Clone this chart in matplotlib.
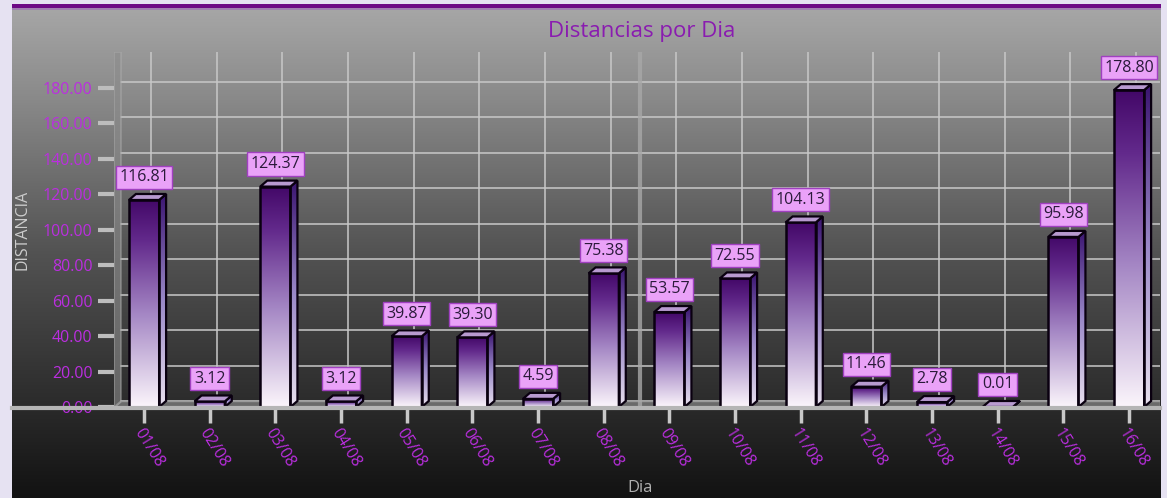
import numpy as np
import matplotlib
matplotlib.use("Agg")
import matplotlib.pyplot as plt
from matplotlib.colors import LinearSegmentedColormap
from matplotlib.patches import Polygon, Rectangle
from matplotlib.lines import Line2D

plt.rcParams['font.family'] = ['Open Sans', 'DejaVu Sans']

# Dados
dias = ['01/08', '02/08', '03/08', '04/08', '05/08', '06/08', '07/08', '08/08',
        '09/08', '10/08', '11/08', '12/08', '13/08', '14/08', '15/08', '16/08']
distancias = [116.81, 3.12, 124.37, 3.12, 39.87, 39.30, 4.59, 75.38,
              53.57, 72.55, 104.13, 11.46, 2.78, 0.01, 95.98, 178.80]
y_ticks = [0, 20, 40, 60, 80, 100, 120, 140, 160, 180]

W, H = 1167, 498
roxo_txt = '#bb2ee0'

fig = plt.figure(figsize=(W / 100, H / 100), dpi=100)
fig.patch.set_facecolor('#e6e2f2')

# Painel de fundo (degradê cinza -> preto)
bg = fig.add_axes([12 / W, 0, (1161 - 12) / W, (H - 4) / H])
bg.set_axis_off()
cinza = LinearSegmentedColormap.from_list('cinza', [
    (0.0, '#121212'), (0.18, '#2a2a2a'), (0.5, '#535353'),
    (0.8, '#888888'), (1.0, '#a8a8a8')])
bg.imshow(np.linspace(0, 1, 256).reshape(-1, 1), aspect='auto', cmap=cinza,
          origin='lower', extent=[0, 1, 0, 1])
bg.set_xlim(0, 1)
bg.set_ylim(0, 1)

# Linha roxa no topo
fig.add_artist(Rectangle((12 / W, (H - 8) / H), (1161 - 12) / W, 4 / H,
                         transform=fig.transFigure, color='#6e0a86', lw=0))
fig.add_artist(Rectangle((12 / W, (H - 10) / H), (1161 - 12) / W, 2 / H,
                         transform=fig.transFigure, color='#a080b0', lw=0))

# Eixo principal
x_px0, x_px1 = 114, 1160
y_px0, y_px1 = 407, 52
px_x = (1129 - 144) / 15
px_y = (407 - 88) / 180
xmin = (x_px0 - 144) / px_x
xmax = (x_px1 - 144) / px_x
ymax = (y_px0 - y_px1) / px_y

ax = fig.add_axes([x_px0 / W, (H - y_px0) / H, (x_px1 - x_px0) / W, (y_px0 - y_px1) / H])
ax.set_facecolor('none')
for s in ax.spines.values():
    s.set_visible(False)

dx = 7 / px_x
dy = 6 / px_y
w = 0.46
x = np.arange(len(dias))

# Parede de fundo: grade
for v in y_ticks:
    ax.plot([xmin + dx, xmax], [v + dy, v + dy], color='#c8c8c8', lw=1.3, alpha=0.85, zorder=1)
for i in x:
    ax.plot([i + dx, i + dx], [dy, ymax], color='#c8c8c8', lw=1.3, alpha=0.85, zorder=1)

# Parede esquerda e piso
ax.add_patch(Polygon([(xmin, 0), (xmin + dx, dy), (xmin + dx, ymax), (xmin, ymax)],
                     closed=True, facecolor='#8c8c8c', edgecolor='#b0b0b0', lw=1, alpha=0.6, zorder=1))
ax.add_patch(Polygon([(xmin, 0), (xmax, 0), (xmax, dy), (xmin + dx, dy)],
                     closed=True, facecolor='#6a6a6a', edgecolor='#9a9a9a', lw=1, zorder=1.5))
ax.plot([7.5 + dx / 2] * 2, [0, ymax], color='#a8a8a8', lw=3, alpha=0.8, zorder=1.6)

# Linha do zero que atravessa o painel
fig.add_artist(Line2D([12 / W, 1160 / W], [(H - 408) / H] * 2, transform=fig.transFigure,
                      color='#b5b5b5', lw=3, zorder=0.5))

frente = LinearSegmentedColormap.from_list('frente', [
    (0.0, '#fbf5fb'), (0.45, '#a486c4'), (0.8, '#632a8c'), (1.0, '#430868')])
lado = LinearSegmentedColormap.from_list('lado', [
    (0.0, '#e8e0ee'), (0.5, '#9a88c8'), (1.0, '#3a1470')])
grad = np.linspace(0, 1, 256).reshape(-1, 1)

for i, v in zip(x, distancias):
    x0, x1 = i - w / 2, i + w / 2
    # face lateral
    p_lado = Polygon([(x1, 0), (x1 + dx, dy), (x1 + dx, v + dy), (x1, v)], closed=True,
                     facecolor='none', edgecolor='#0a0010', lw=1.6, zorder=4)
    ax.add_patch(p_lado)
    im = ax.imshow(grad, aspect='auto', cmap=lado, origin='lower',
                   extent=[x1, x1 + dx, 0, v + dy], zorder=3)
    im.set_clip_path(p_lado)
    # face frontal
    p_frente = Rectangle((x0, 0), w, v, facecolor='none', edgecolor='#0a0010', lw=1.8, zorder=4)
    ax.add_patch(p_frente)
    im = ax.imshow(grad, aspect='auto', cmap=frente, origin='lower',
                   extent=[x0, x1, 0, max(v, 0.01)], zorder=3)
    im.set_clip_path(p_frente)
    # topo
    ax.add_patch(Polygon([(x0, v), (x1, v), (x1 + dx, v + dy), (x0 + dx, v + dy)], closed=True,
                         facecolor='#b89ad0', edgecolor='#0a0010', lw=1.6, zorder=4.5))
    # rótulo
    ax.annotate(f'{v:.2f}', (i, v), xytext=(0, 10.5), textcoords='offset points',
                ha='center', va='bottom', fontsize=11.5, color='#2a1a3a', zorder=10,
                bbox=dict(boxstyle='square,pad=0.22', facecolor='#eaa2f8', edgecolor='#a040c0', lw=1))

ax.set_xlim(xmin, xmax)
ax.set_ylim(0, ymax)

ax.set_yticks(y_ticks)
ax.set_yticklabels([f'{v:.2f}' for v in y_ticks])
ax.set_xticks(x)
ax.set_xticklabels(dias, rotation=-58, ha='left', va='top', rotation_mode='anchor')
ax.tick_params(axis='y', length=11.5, width=3, color='#bdbdbd', labelcolor=roxo_txt,
               labelsize=11.5, pad=4)
ax.tick_params(axis='x', length=11.5, width=2.5, color='#c8c8c8', labelcolor=roxo_txt,
               labelsize=11.5, pad=2)

fig.text(642 / W, (H - 32) / H, 'Distancias por Dia', ha='center', va='center',
         fontsize=16, color='#8a1cb0')
fig.text(640 / W, (H - 488) / H, 'Dia', ha='center', va='center', fontsize=12, color='#b0b0b0')
fig.text(22 / W, (H - 230) / H, 'DISTANCIA', ha='center', va='center', rotation=90,
         fontsize=11.5, color='#cccccc')

fig.savefig('out.png', dpi=100, facecolor=fig.get_facecolor())
